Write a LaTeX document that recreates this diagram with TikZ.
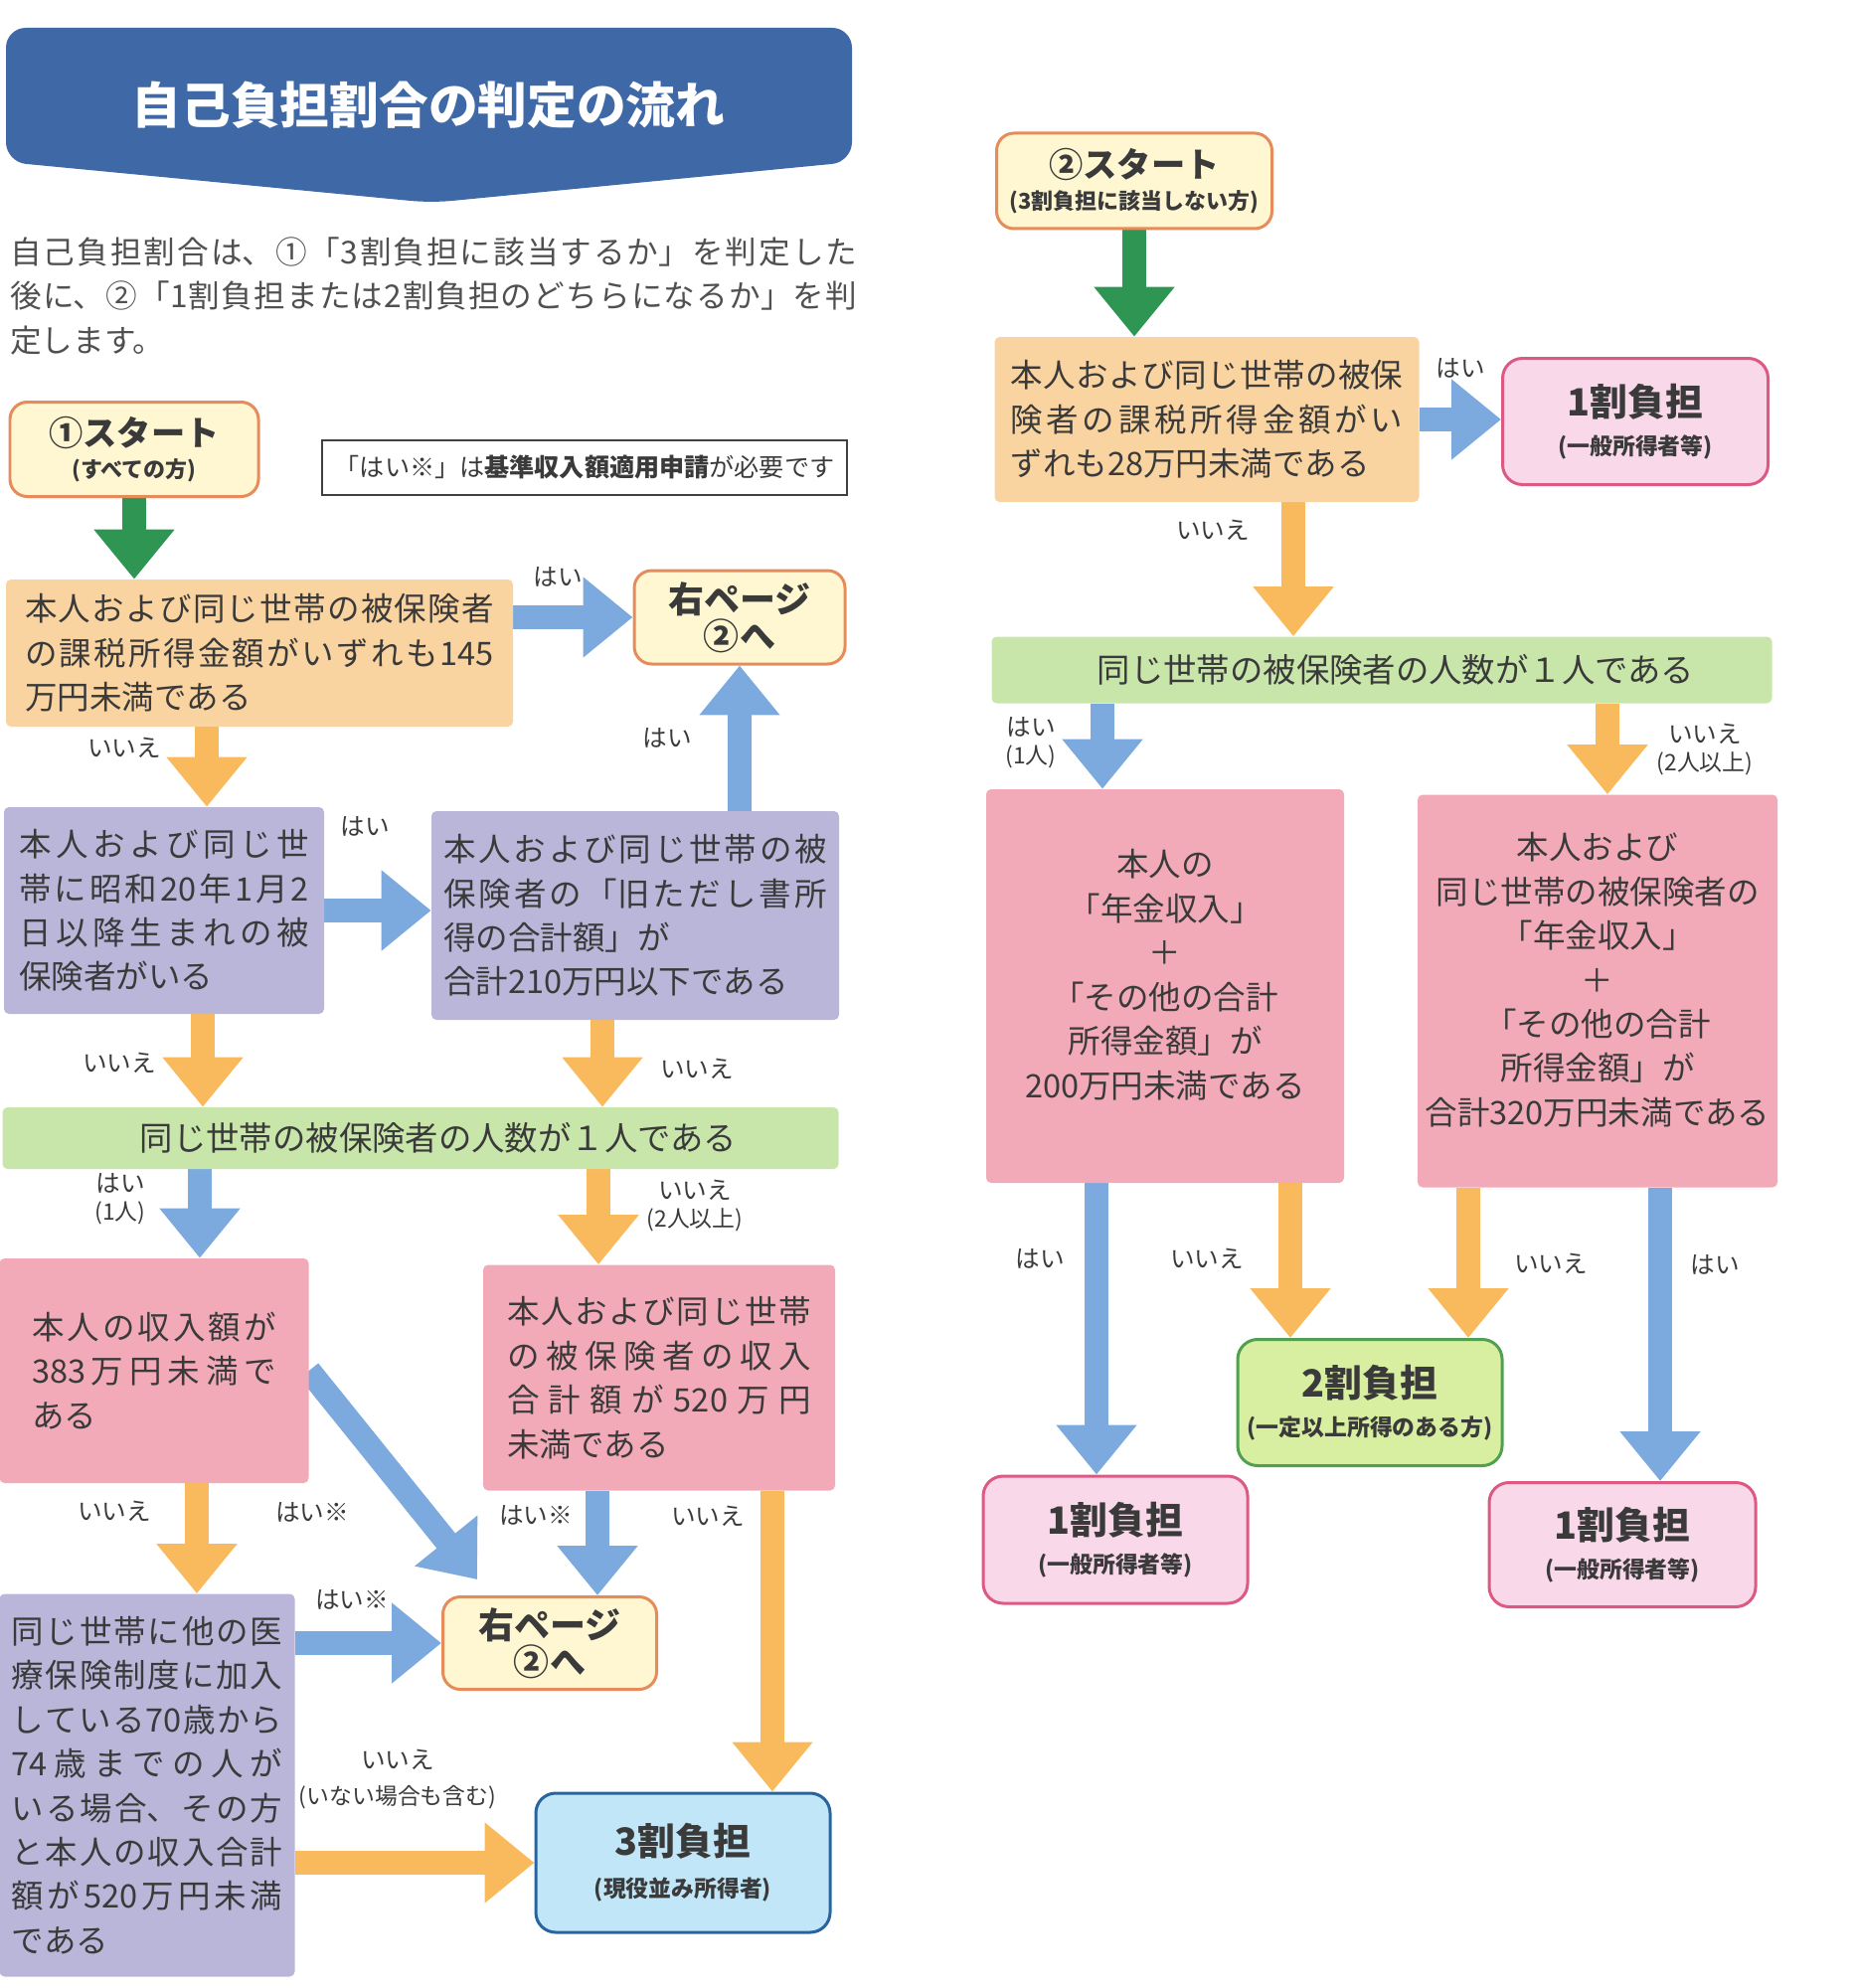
\documentclass[tikz,border=0pt]{standalone}
\usepackage{fontspec}
\setmainfont{Noto Sans CJK JP}
\usetikzlibrary{arrows.meta, calc, backgrounds}

\XeTeXlinebreaklocale "ja"
\XeTeXlinebreakskip=0pt plus 3pt
\tolerance=10000
\hbadness=10000

\newlength{\px}
\setlength{\px}{0.02cm}

\definecolor{bannerblue}{RGB}{62,104,166}
\definecolor{txtgray}{RGB}{58,58,58}
\definecolor{introgray}{RGB}{80,80,80}
\definecolor{peach}{RGB}{250,212,160}
\definecolor{lilac}{RGB}{186,182,218}
\definecolor{rose}{RGB}{243,170,184}
\definecolor{leaf}{RGB}{200,230,170}
\definecolor{cream}{RGB}{255,247,210}
\definecolor{creamline}{RGB}{230,140,90}
\definecolor{onefill}{RGB}{249,216,234}
\definecolor{oneline}{RGB}{220,90,130}
\definecolor{twofill}{RGB}{216,238,160}
\definecolor{twoline}{RGB}{80,160,80}
\definecolor{threefill}{RGB}{192,230,248}
\definecolor{threeline}{RGB}{40,100,160}
\definecolor{arrowgreen}{RGB}{46,150,82}
\definecolor{arrowblue}{RGB}{125,170,222}
\definecolor{arroworange}{RGB}{248,186,92}

\newcommand{\headfont}{\fontsize{28.3}{34}\selectfont\bfseries}
\newcommand{\introfont}{\fontsize{18}{25.3}\selectfont}
\newcommand{\condfont}{\fontsize{18.5}{25.3}\selectfont}
\newcommand{\barfont}{\fontsize{19}{25.3}\selectfont}
\newcommand{\tagfont}{\fontsize{14}{16}\selectfont}
\newcommand{\subtagfont}{\fontsize{13}{16}\selectfont}
\newcommand{\startfont}{\fontsize{19.5}{22}\selectfont\bfseries}
\newcommand{\startsubfont}{\fontsize{12.5}{17.5}\selectfont\bfseries}
\newcommand{\pagefont}{\fontsize{20.5}{21}\selectfont\bfseries}
\newcommand{\rankfont}{\fontsize{21.5}{24}\selectfont\bfseries}
\newcommand{\ranksubfont}{\fontsize{13}{21}\selectfont\bfseries}
\newcommand{\notefont}{\fontsize{14.3}{17}\selectfont}

\tikzstyle{cond} = [rectangle, rounded corners=0.1cm, inner sep=0pt, text=txtgray, font=\condfont, align=justify]
\tikzstyle{peachbox} = [cond, fill=peach]
\tikzstyle{lilacbox} = [cond, fill=lilac]
\tikzstyle{rosebox} = [cond, fill=rose]
\tikzstyle{leafbar} = [cond, fill=leaf, align=center, font=\barfont]
\tikzstyle{startbox} = [rectangle, rounded corners=0.35cm, line width=0.06cm, draw=creamline, fill=cream, align=center, text=txtgray, inner sep=0pt]
\tikzstyle{rankbox} = [rectangle, rounded corners=0.4cm, line width=0.06cm, align=center, text=txtgray, inner sep=0pt]
\tikzstyle{tag} = [text=txtgray, font=\tagfont, align=center, inner sep=0pt]
\tikzstyle{fat} = [line width=0.48cm, -{Triangle[width=1.56cm,length=1cm]}]
\tikzstyle{yesarrow} = [fat, draw=arrowblue]
\tikzstyle{noarrow} = [fat, draw=arroworange]
\tikzstyle{startarrow} = [fat, draw=arrowgreen]

\begin{document}
\begin{tikzpicture}[x=0.02cm, y=-0.02cm]
    \useasboundingbox (0,0) rectangle (1868,2000);

    \fill [bannerblue, rounded corners=0.4cm] (6,163) -- (6,28) -- (857,28) -- (857,163) -- (434,204) -- cycle;
    \node (title) [text=white, font=\headfont] at (431,106) {自己負担割合の判定の流れ};
    \node (intro) [anchor=north west, text width=852\px, align=justify, inner sep=0pt, text=introgray, font=\introfont] at (10,238)
        {自己負担割合は、①「3割負担に該当するか」を判定した\linebreak 後に、②「1割負担または2割負担のどちらになるか」を判\linebreak 定します。};

    % left page
    \node (startA) [startbox, minimum width=250\px, minimum height=95\px] at (135,452) {{\startfont ①スタート}\\[4.5pt]\startsubfont (すべての方)};
    \node (note) [draw=black!75, line width=0.04cm, minimum width=528\px, minimum height=55\px, font=\notefont, text=txtgray] at (588,470)
        {「はい※」は\textbf{基準収入額適用申請}が必要です};

    \node (A) [peachbox, minimum width=510\px, minimum height=148\px, text width=472\px] at (261,657)
        {本人および同じ世帯の被保険者\linebreak の課税所得金額がいずれも145\linebreak 万円未満である};
    \node (R1) [startbox, font=\pagefont, minimum width=212\px, minimum height=94\px] at (744,621) {右ページ\\②へ};

    \node (B) [lilacbox, minimum width=322\px, minimum height=208\px, text width=292\px] at (165,916)
        {本人および同じ世\linebreak 帯に昭和20年1月2\linebreak 日以降生まれの被\linebreak 保険者がいる};
    \node (C) [lilacbox, minimum width=410\px, minimum height=210\px, text width=386\px] at (639,921)
        {本人および同じ世帯の被\linebreak 保険者の「旧ただし書所\linebreak 得の合計額」が\newline 合計210万円以下である};

    \node (D) [leafbar, minimum width=841\px, minimum height=62\px] at (423,1145) {\hspace*{36\px}同じ世帯の被保険者の人数が１人である};

    \node (E) [rosebox, minimum width=311\px, minimum height=226\px, text width=246\px] at (155,1379)
        {本人の収入額が\linebreak 383万円未満で\linebreak ある};
    \node (F) [rosebox, minimum width=354\px, minimum height=227\px, text width=306\px] at (663,1386)
        {本人および同じ世帯\linebreak の被保険者の収入\linebreak 合計額が520万円\linebreak 未満である};

    \node (R2) [startbox, font=\pagefont, minimum width=215\px, minimum height=93\px] at (553,1653) {右ページ\\②へ};
    \node (G) [lilacbox, minimum width=297\px, minimum height=385\px, text width=273\px] at (148,1796)
        {同じ世帯に他の医\linebreak 療保険制度に加入\linebreak している70歳から\linebreak 74歳までの人が\linebreak いる場合、その方\linebreak と本人の収入合計\linebreak 額が520万円未満\linebreak である};
    \node (H) [rankbox, draw=threeline, fill=threefill, minimum width=296\px, minimum height=140\px] at (687,1874)
        {{\rankfont 3割負担}\\[9.5pt]\ranksubfont (現役並み所得者)};

    % right page
    \node (startB) [startbox, minimum width=277\px, minimum height=96\px] at (1141,182) {{\startfont ②スタート}\\[4.5pt]\startsubfont (3割負担に該当しない方)};
    \node (I) [peachbox, minimum width=427\px, minimum height=166\px, text width=395\px] at (1214,422)
        {本人および同じ世帯の被保\linebreak 険者の課税所得金額がい\linebreak ずれも28万円未満である};
    \node (J) [rankbox, draw=oneline, fill=onefill, minimum width=267\px, minimum height=127\px] at (1645,424)
        {{\rankfont 1割負担}\\[8pt]\ranksubfont (一般所得者等)};
    \node (K) [leafbar, minimum width=785\px, minimum height=67\px] at (1390,674) {\hspace*{28\px}同じ世帯の被保険者の人数が１人である};

    \node (L) [rosebox, align=center, minimum width=360\px, minimum height=396\px] at (1172,992)
        {本人の\\「年金収入」\\＋\\「その他の合計\\所得金額」が\\200万円未満である\\[-11pt]};
    \node (M) [rosebox, align=center, minimum width=362\px, minimum height=395\px] at (1607,997)
        {本人および\\同じ世帯の被保険者の\\「年金収入」\\＋\\「その他の合計\\所得金額」が\\合計320万円未満である\\[-11pt]};

    \node (N) [rankbox, draw=twoline, fill=twofill, minimum width=266\px, minimum height=127\px] at (1378,1411)
        {{\rankfont 2割負担}\\[8pt]\ranksubfont (一定以上所得のある方)};
    \node (O) [rankbox, draw=oneline, fill=onefill, minimum width=266\px, minimum height=128\px] at (1122,1549)
        {{\rankfont 1割負担}\\[8pt]\ranksubfont (一般所得者等)};
    \node (P) [rankbox, draw=oneline, fill=onefill, minimum width=268\px, minimum height=125\px] at (1632,1554)
        {{\rankfont 1割負担}\\[8pt]\ranksubfont (一般所得者等)};

    % answers
    \node (yesAR) [tag] at (561,580) {はい};
    \node (noAB) [tag] at (125,752) {いいえ};
    \node (yesBC) [tag] at (367,831) {はい};
    \node (yesCR) [tag] at (671,742) {はい};
    \node (noBD) [tag] at (120,1069) {いいえ};
    \node (noCD) [tag] at (701,1075) {いいえ};
    \node (yesDE) [tag] at (121,1206) {はい\\\subtagfont (1人)};
    \node (noDF) [tag] at (699,1213) {いいえ\\\subtagfont (2人以上)};
    \node (yesER) [tag] at (314,1521) {はい※};
    \node (noEG) [tag] at (115,1520) {いいえ};
    \node (yesFR) [tag] at (539,1524) {はい※};
    \node (noFH) [tag] at (712,1525) {いいえ};
    \node (yesGR) [tag] at (354,1609) {はい※};
    \node (noGH) [tag] at (400,1790) {いいえ\\[4.5pt]\subtagfont (いない場合も含む)};
    \node (yesIJ) [tag] at (1469,370) {はい};
    \node (noIK) [tag] at (1220,533) {いいえ};
    \node (yesKL) [tag] at (1037,747) {はい\\\subtagfont (1人)};
    \node (noKM) [tag] at (1715,754) {いいえ\\\subtagfont (2人以上)};
    \node (yesLO) [tag] at (1046,1266) {はい};
    \node (noLN) [tag] at (1214,1266) {いいえ};
    \node (noMN) [tag] at (1560,1271) {いいえ};
    \node (yesMP) [tag] at (1725,1272) {はい};

    \coordinate (xAB) at (208,0);
    \coordinate (xBD) at (204,0);
    \coordinate (xCD) at (606,0);
    \coordinate (xDE) at (201,0);
    \coordinate (xDF) at (602,0);
    \coordinate (xEG) at (198,0);
    \coordinate (xFR) at (601,0);
    \coordinate (xFH) at (777,0);
    \coordinate (xIK) at (1301,0);
    \coordinate (xKL) at (1109,0);
    \coordinate (xKM) at (1617,0);
    \coordinate (xLO) at (1103,0);
    \coordinate (xLN) at (1298,0);
    \coordinate (xMN) at (1477,0);
    \coordinate (xMP) at (1670,0);

\begin{pgfonlayer}{background}
\draw [startarrow] (startA.south) -- (startA.south |- A.north);
\draw [yesarrow] (A.east |- R1.west) -- (R1.west);
\draw [noarrow] (A.south -| xAB) -- (B.north -| xAB);
\draw [yesarrow] (B.east) -- (B.east -| C.west);
\draw [yesarrow] (R1.south |- C.north) -- (R1.south);
\draw [noarrow] (B.south -| xBD) -- (D.north -| xBD);
\draw [noarrow] (C.south -| xCD) -- (D.north -| xCD);
\draw [yesarrow] (D.south -| xDE) -- (E.north -| xDE);
\draw [noarrow] (D.south -| xDF) -- (F.north -| xDF);
\draw [yesarrow] (E.east) -- ([shift={(36,-16)}]R2.north west);
\draw [noarrow] (E.south -| xEG) -- (G.north -| xEG);
\draw [yesarrow] (F.south -| xFR) -- (R2.north -| xFR);
\draw [noarrow] (F.south -| xFH) -- (H.north -| xFH);
\draw [yesarrow] (G.east |- R2.west) -- (R2.west);
\draw [noarrow] (G.east |- H.west) -- (H.west);

\draw [startarrow] (startB.south) -- (startB.south |- I.north);
\draw [yesarrow] (I.east) -- (I.east -| J.west);
\draw [noarrow] (I.south -| xIK) -- (K.north -| xIK);
\draw [yesarrow] (K.south -| xKL) -- (L.north -| xKL);
\draw [noarrow] (K.south -| xKM) -- (M.north -| xKM);
\draw [yesarrow] (L.south -| xLO) -- (O.north -| xLO);
\draw [noarrow] (L.south -| xLN) -- (N.north -| xLN);
\draw [noarrow] (M.south -| xMN) -- (N.north -| xMN);
\draw [yesarrow] (M.south -| xMP) -- (P.north -| xMP);
\end{pgfonlayer}

\end{tikzpicture}
\end{document}
